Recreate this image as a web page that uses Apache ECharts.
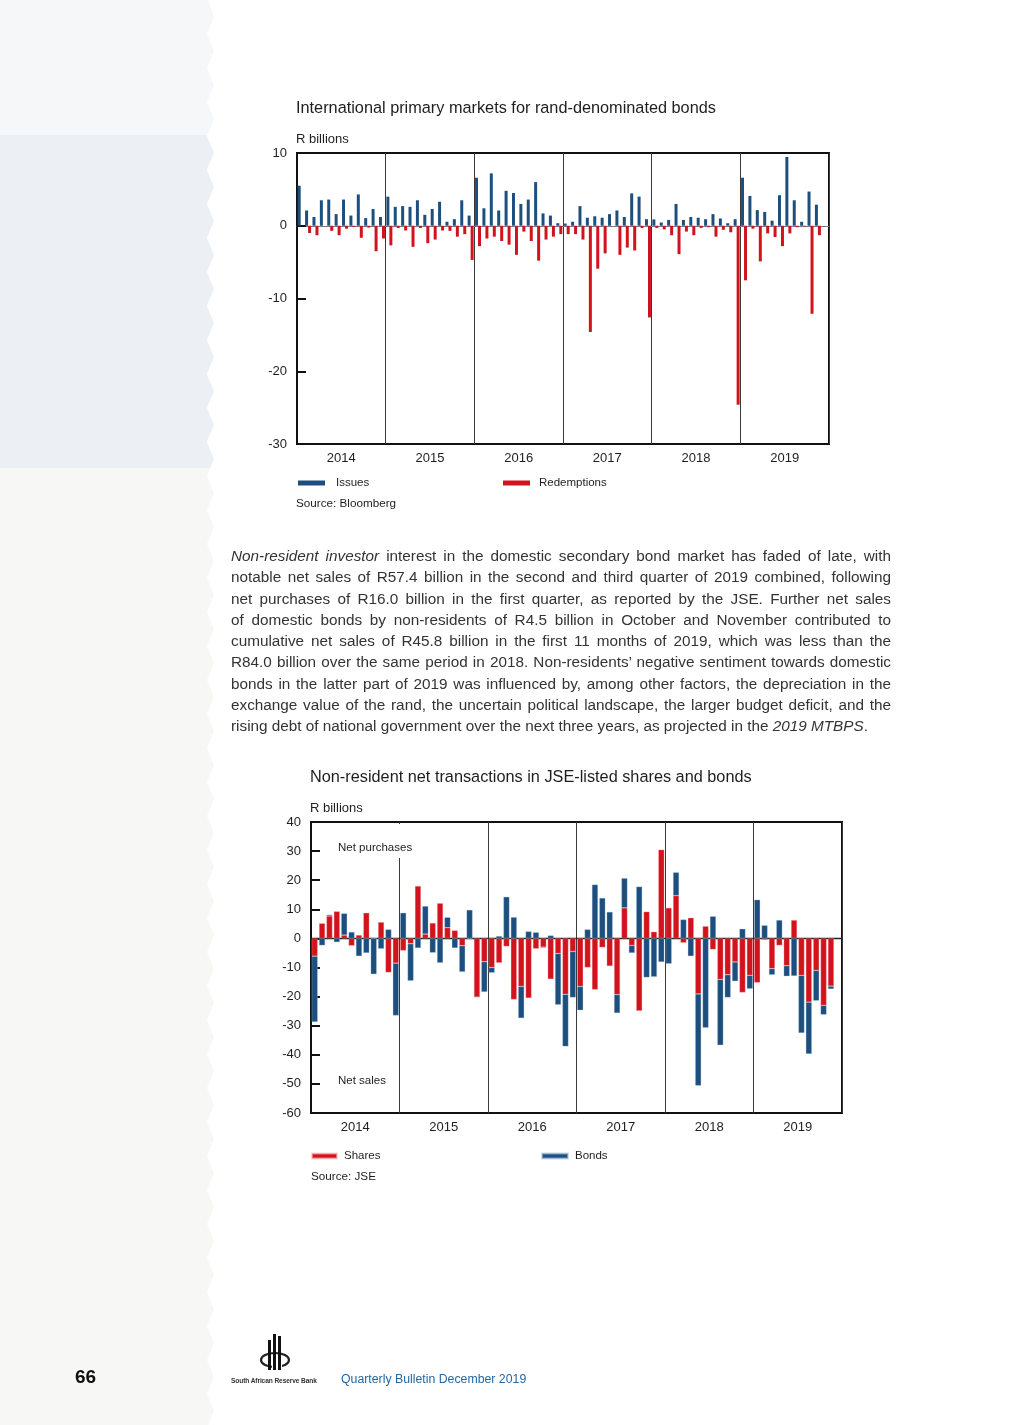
<!DOCTYPE html>
<html><head><meta charset="utf-8">
<script src="https://cdn.jsdelivr.net/npm/echarts@6/dist/echarts.min.js"></script>
<style>
html,body{margin:0;padding:0;width:1009px;height:1425px;background:#fff;overflow:hidden;font-family:"Liberation Sans",Arial,Helvetica,sans-serif;}
#strip{position:absolute;left:0;top:0;width:216px;height:1425px;
 background:linear-gradient(#f6f7f9 0,#f6f7f9 135px,#ecf0f5 135px,#ecf0f5 468px,#f7f7f5 468px,#f7f7f5 100%);}
#chart{position:absolute;left:0;top:0;width:1009px;height:1425px;}
#para{position:absolute;left:231px;top:545px;width:660px;font-size:15.3px;line-height:21.25px;color:#333;}
#para div{white-space:nowrap;height:21.25px;}
#foot66{position:absolute;left:75px;top:1366px;font-size:19px;font-weight:bold;color:#111;}
#sarb{position:absolute;left:231px;top:1377px;font-size:6.6px;font-weight:bold;color:#333;letter-spacing:-0.1px;white-space:nowrap;}
#qb{position:absolute;left:341px;top:1372px;font-size:12.3px;color:#2368a2;white-space:nowrap;}
#logo{position:absolute;left:256px;top:1332px;}
</style></head>
<body>
<div id="strip"></div>
<div id="chart"></div>
<div id="para">
<div><span><i>Non-resident investor</i> interest in the domestic secondary bond market has faded of late, with</span></div>
<div><span>notable net sales of R57.4 billion in the second and third quarter of 2019 combined, following</span></div>
<div><span>net purchases of R16.0 billion in the first quarter, as reported by the JSE. Further net sales</span></div>
<div><span>of domestic bonds by non-residents of R4.5 billion in October and November contributed to</span></div>
<div><span>cumulative net sales of R45.8 billion in the first 11 months of 2019, which was less than the</span></div>
<div><span>R84.0 billion over the same period in 2018. Non-residents’ negative sentiment towards domestic</span></div>
<div><span>bonds in the latter part of 2019 was influenced by, among other factors, the depreciation in the</span></div>
<div><span>exchange value of the rand, the uncertain political landscape, the larger budget deficit, and the</span></div>
<div class="last"><span>rising debt of national government over the next three years, as projected in the <i>2019 MTBPS</i>.</span></div>
</div>
<svg id="logo" width="40" height="42" viewBox="0 0 40 42">
 <ellipse cx="19" cy="28" rx="14" ry="7" fill="none" stroke="#222" stroke-width="2.2"/>
 <rect x="12" y="8" width="3" height="30" fill="#111"/>
 <rect x="17" y="2" width="3" height="36" fill="#111"/>
 <rect x="22" y="4" width="3" height="34" fill="#111"/>
 <rect x="16" y="30" width="10" height="6" fill="#fff"/>
 <rect x="17" y="30" width="3" height="8" fill="#111"/>
 <rect x="22" y="30" width="3" height="8" fill="#111"/>
</svg>
<div id="sarb">South African Reserve Bank</div>
<div id="qb">Quarterly Bulletin December 2019</div>
<div id="foot66">66</div>
<script>
// ---------- data ----------
const years = ['2014','2015','2016','2017','2018','2019'];
const months = years.flatMap(y => ['01','02','03','04','05','06','07','08','09','10','11','12'].map(m => y + '-' + m));

// Chart 1: International primary markets for rand-denominated bonds (R billions)
const issues = [
  5.5, 2.1, 1.2, 3.5, 3.6, 1.6, 3.6, 1.4, 4.3, 1.05, 2.3, 1.2,
  4.0, 2.6, 2.7, 2.6, 3.5, 1.5, 2.3, 3.3, 0.55, 0.9, 3.5, 1.4,
  6.6, 2.4, 7.2, 2.1, 4.8, 4.5, 3.0, 3.6, 6.0, 1.7, 1.4, 0.35,
  0.3, 0.55, 2.7, 1.1, 1.3, 1.1, 1.6, 2.1, 1.2, 4.45, 4.0, 0.9,
  0.87, 0.45, 0.8, 3.0, 0.8, 1.2, 1.1, 0.9, 1.6, 1.0, 0.35, 0.9,
  6.6, 4.1, 2.15, 1.9, 0.7, 4.2, 9.45, 3.5, 0.55, 4.7, 2.9, null
];
const redemptions = [
  0, -1.0, -1.3, 0, -0.7, -1.3, -0.4, -0.15, -1.65, -0.25, -3.5, -1.75,
  -2.7, -0.3, -0.65, -2.9, -0.3, -2.4, -1.9, -0.65, -0.7, -1.5, -1.15, -4.7,
  -2.8, -1.75, -1.5, -2.1, -2.6, -4.0, -0.8, -2.1, -4.8, -1.9, -1.5, -1.15,
  -1.15, -1.15, -1.9, -14.6, -5.9, -3.8, 0, -4.0, -3.0, -3.4, -0.3, -12.6,
  -0.3, -0.5, -1.3, -3.9, -0.8, -1.3, -0.3, -0.2, -1.5, -0.55, -0.9, -24.6,
  -7.5, -0.4, -4.9, -1.05, -1.55, -2.8, -1.05, -0.2, -0.1, -12.1, -1.3, null
];

// Chart 2: Non-resident net transactions in JSE-listed shares and bonds (R billions)
const shares = [
  -6.1, 5.2, 7.7, 9.3, 1.15, -2.5, 1.15, 8.8, 0, 5.6, -11.7, -8.5,
  -4.2, -1.85, 18.0, 1.5, 5.3, 12.1, 3.7, 2.75, -2.5, 0, -20.2, -8.0,
  -10.0, -8.4, -2.75, -21.0, -16.5, -20.5, -3.55, -3.0, -14.0, -5.2, -19.2, -4.5,
  -16.5, -10.0, -17.6, -3.1, -9.5, -19.3, 10.5, -2.4, -24.9, 9.2, 2.3, 30.5,
  10.5, 14.7, -1.5, 7.1, -19.1, 4.2, -3.8, -14.1, -12.5, -8.1, -18.6, -12.7,
  -15.2, -0.5, -10.4, -2.4, -9.4, 6.3, -12.7, -21.9, -11.0, -23.0, -16.4, null
];
const bonds = [
  -22.6, -2.4, 0.45, -1.3, 7.45, 2.2, -6.1, -5.0, -12.3, -3.55, 3.1, -18.0,
  8.8, -12.7, -3.3, 9.6, -4.9, -8.4, 3.55, -3.3, -9.0, 9.8, 0, -10.4,
  -1.8, 0.8, 14.3, 7.3, -10.9, 2.4, 2.1, -0.3, 1.0, -17.6, -17.9, -15.8,
  -8.2, 3.1, 18.5, 13.9, 9.1, -6.35, 10.2, -2.6, 17.8, -13.4, -13.2, -8.1,
  -8.7, 8.0, 6.5, -6.1, -31.5, -30.7, 7.6, -22.6, -7.8, -6.6, 3.3, -4.6,
  13.3, 4.5, -2.1, 6.3, -3.6, -12.9, -19.8, -17.8, -10.4, -3.2, -1.0, null
];

// ---------- page strip edge ----------
(function(){
  const pts = ['0px 0px', '208px 0px'];
  for (let y = 0; y < 1425; y += 34) {
    pts.push('214px ' + (y + 17) + 'px');
    pts.push('207px ' + (y + 34) + 'px');
  }
  pts.push('0px 1425px');
  document.getElementById('strip').style.clipPath = 'polygon(' + pts.join(',') + ')';
})();

// ---------- paragraph justification ----------
(function(){
  const W = 660;
  document.querySelectorAll('#para div').forEach(d => {
    if (d.classList.contains('last')) return;
    const s = d.querySelector('span');
    const w = s.getBoundingClientRect().width;
    const n = (s.textContent.match(/ /g) || []).length;
    if (n > 0) d.style.wordSpacing = ((W - w) / n) + 'px';
  });
})();

// ---------- chart ----------
const FONT = '"Liberation Sans", Arial, Helvetica, sans-serif';
const TXT = '#1e1e1e';
const BLUE = '#1d4f7e';
const RED = '#d2131d';

const chart = echarts.init(document.getElementById('chart'), null, {renderer: 'canvas'});

function monthAxis(g) {
  return {
    type: 'category', gridIndex: g, data: months, position: 'bottom',
    axisLine: {show: true, onZero: true, lineStyle: {color: g === 0 ? '#7a7a7a' : '#222', width: g === 0 ? 1 : 1.3}},
    axisTick: {show: false}, axisLabel: {show: false},
    splitLine: {show: true, interval: (i) => i % 12 === 0 && i > 0, lineStyle: {color: '#3a3a3a', width: 1}}
  };
}
function yearAxis(g) {
  return {
    type: 'category', gridIndex: g, data: years, position: 'bottom',
    axisLine: {show: false, onZero: false}, axisTick: {show: false}, splitLine: {show: false},
    axisLabel: {color: TXT, fontSize: 13, fontFamily: FONT, margin: 8}
  };
}
function valAxis(g, min, max) {
  return {
    type: 'value', gridIndex: g, min: min, max: max, interval: 10,
    axisLine: {show: true, lineStyle: {color: '#111', width: 2}},
    axisTick: {show: true, inside: true, length: 9, lineStyle: {color: '#111', width: 2}},
    axisLabel: {color: TXT, fontSize: 13, fontFamily: FONT, margin: 10},
    splitLine: {show: false}
  };
}
function legendOf(name, left, top, iw, pad) {
  return {
    data: [name], left: left, top: top, padding: 0, icon: 'rect', itemWidth: iw, itemHeight: 5,
    selectedMode: false, textStyle: {fontSize: 11.5, color: TXT, fontFamily: FONT, padding: [0, 0, 0, pad]}
  };
}
function txt(text, x, y, size, extra) {
  return Object.assign({
    type: 'text', z: 20,
    style: {text: text, x: x, y: y, fill: TXT, font: size + 'px ' + FONT, verticalAlign: 'middle'}
  }, extra || {});
}

chart.setOption({
  animation: false,
  textStyle: {fontFamily: FONT},
  title: [
    {text: 'International primary markets for rand-denominated bonds', left: 296, top: 101, padding: 0,
     textStyle: {fontSize: 16.3, fontWeight: 'normal', color: TXT, fontFamily: FONT}},
    {text: 'Non-resident net transactions in JSE-listed shares and bonds', left: 310, top: 770, padding: 0,
     textStyle: {fontSize: 16.3, fontWeight: 'normal', color: TXT, fontFamily: FONT}}
  ],
  grid: [
    {left: 297, top: 153, width: 532, height: 291, show: true, borderColor: '#111', borderWidth: 2, containLabel: false},
    {left: 311, top: 822, width: 531, height: 291, show: true, borderColor: '#111', borderWidth: 2, containLabel: false}
  ],
  xAxis: [monthAxis(0), yearAxis(0), monthAxis(1), yearAxis(1)],
  yAxis: [valAxis(0, -30, 10), valAxis(1, -60, 40)],
  legend: [
    legendOf('Issues', 298, 477, 27, 6), legendOf('Redemptions', 503, 477, 27, 4),
    legendOf('Shares', 311, 1150, 25, 2), legendOf('Bonds', 541, 1150, 26, 2)
  ],
  graphic: [
    txt('R billions', 296, 139, 13),
    txt('Source: Bloomberg', 296, 504, 11.7),
    txt('R billions', 310, 808, 13),
    {type: 'rect', z: 19, shape: {x: 333, y: 824, width: 84, height: 34}, style: {fill: '#fff'}},
    txt('Net purchases', 338, 848, 11.5),
    txt('Net sales', 338, 1081, 11.5),
    txt('Source: JSE', 311, 1177, 11.7)
  ],
  series: [
    {name: 'Issues', type: 'bar', xAxisIndex: 0, yAxisIndex: 0, data: issues,
     barWidth: 3, barGap: '0%', itemStyle: {color: BLUE}},
    {name: 'Redemptions', type: 'bar', xAxisIndex: 0, yAxisIndex: 0, data: redemptions,
     barWidth: 3, barGap: '0%', itemStyle: {color: RED}},
    {name: 'Shares', type: 'bar', xAxisIndex: 2, yAxisIndex: 1, stack: 'nt', data: shares,
     barWidth: 6, itemStyle: {color: RED, borderColor: 'rgba(255,190,190,0.6)', borderWidth: 0.5}},
    {name: 'Bonds', type: 'bar', xAxisIndex: 2, yAxisIndex: 1, stack: 'nt', data: bonds,
     barWidth: 6, itemStyle: {color: BLUE, borderColor: 'rgba(170,200,230,0.6)', borderWidth: 0.5}}
  ]
});
</script>
</body></html>
